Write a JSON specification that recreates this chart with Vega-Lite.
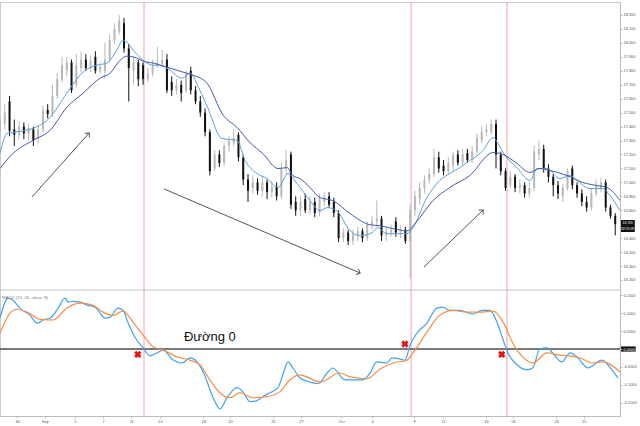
{
  "$schema": "https://vega.github.io/schema/vega-lite/v6.json",
  "background": "white",
  "width": 620,
  "height": 414,
  "autosize": {"type": "none"},
  "padding": {"left": 0, "top": 2, "right": 20, "bottom": 10},
  "config": {
    "view": {"stroke": "#cccccc"},
    "scale": {"continuousPadding": 0},
    "axis": {
      "grid": false,
      "labelFont": "Liberation Sans", "labelFontSize": 3.9, "labelColor": "#555555",
      "domainColor": "#bbbbbb", "tickColor": "#bbbbbb", "tickSize": 2, "labelPadding": 1
    }
  },
  "datasets": {
    "candles": [
      {"i":0,"o":17.36,"h":17.48,"l":17.33,"c":17.45},{"i":1,"o":17.42,"h":17.56,"l":17.38,"c":17.50},
      {"i":2,"o":17.58,"h":17.62,"l":17.33,"c":17.37},{"i":3,"o":17.38,"h":17.45,"l":17.26,"c":17.34},
      {"i":4,"o":17.34,"h":17.44,"l":17.31,"c":17.40},{"i":5,"o":17.40,"h":17.43,"l":17.31,"c":17.35},
      {"i":6,"o":17.35,"h":17.42,"l":17.30,"c":17.39},{"i":7,"o":17.38,"h":17.40,"l":17.26,"c":17.30},
      {"i":8,"o":17.31,"h":17.41,"l":17.28,"c":17.38},{"i":9,"o":17.38,"h":17.55,"l":17.36,"c":17.52},
      {"i":10,"o":17.52,"h":17.56,"l":17.46,"c":17.49},{"i":11,"o":17.49,"h":17.70,"l":17.47,"c":17.62},
      {"i":12,"o":17.62,"h":17.78,"l":17.60,"c":17.74},{"i":13,"o":17.74,"h":17.90,"l":17.72,"c":17.84},
      {"i":14,"o":17.80,"h":17.90,"l":17.76,"c":17.86},{"i":15,"o":17.86,"h":17.88,"l":17.64,"c":17.66},
      {"i":16,"o":17.70,"h":17.92,"l":17.68,"c":17.84},{"i":17,"o":17.82,"h":17.94,"l":17.79,"c":17.88},
      {"i":18,"o":17.88,"h":17.92,"l":17.80,"c":17.82},{"i":19,"o":17.82,"h":17.91,"l":17.79,"c":17.87},
      {"i":20,"o":17.90,"h":17.94,"l":17.78,"c":17.80},{"i":21,"o":17.80,"h":17.86,"l":17.78,"c":17.83},
      {"i":22,"o":17.80,"h":18.00,"l":17.74,"c":17.88},{"i":23,"o":17.88,"h":18.06,"l":17.86,"c":18.02},
      {"i":24,"o":18.02,"h":18.14,"l":17.99,"c":18.10},{"i":25,"o":18.08,"h":18.20,"l":18.06,"c":18.16},
      {"i":26,"o":18.14,"h":18.18,"l":17.93,"c":17.96},{"i":27,"o":17.96,"h":17.99,"l":17.58,"c":17.82},
      {"i":28,"o":17.80,"h":17.90,"l":17.70,"c":17.86},{"i":29,"o":17.86,"h":17.88,"l":17.69,"c":17.74},
      {"i":30,"o":17.84,"h":17.86,"l":17.70,"c":17.74},{"i":31,"o":17.74,"h":17.82,"l":17.72,"c":17.78},
      {"i":32,"o":17.78,"h":17.88,"l":17.76,"c":17.84},{"i":33,"o":17.84,"h":17.97,"l":17.82,"c":17.86},
      {"i":34,"o":17.85,"h":17.95,"l":17.82,"c":17.88},{"i":35,"o":17.88,"h":17.92,"l":17.64,"c":17.66},
      {"i":36,"o":17.72,"h":17.76,"l":17.62,"c":17.66},{"i":37,"o":17.66,"h":17.74,"l":17.63,"c":17.70},
      {"i":38,"o":17.70,"h":17.73,"l":17.58,"c":17.64},{"i":39,"o":17.66,"h":17.80,"l":17.64,"c":17.78},
      {"i":40,"o":17.80,"h":17.83,"l":17.63,"c":17.66},{"i":41,"o":17.66,"h":17.69,"l":17.56,"c":17.58},
      {"i":42,"o":17.58,"h":17.62,"l":17.47,"c":17.50},{"i":43,"o":17.50,"h":17.53,"l":17.33,"c":17.36},
      {"i":44,"o":17.36,"h":17.38,"l":17.05,"c":17.08},{"i":45,"o":17.10,"h":17.23,"l":17.08,"c":17.20},
      {"i":46,"o":17.20,"h":17.23,"l":17.11,"c":17.14},{"i":47,"o":17.14,"h":17.28,"l":17.12,"c":17.26},
      {"i":48,"o":17.26,"h":17.33,"l":17.22,"c":17.30},{"i":49,"o":17.28,"h":17.38,"l":17.26,"c":17.32},
      {"i":50,"o":17.34,"h":17.36,"l":17.15,"c":17.18},{"i":51,"o":17.18,"h":17.20,"l":16.98,"c":17.02},
      {"i":52,"o":17.02,"h":17.06,"l":16.86,"c":16.94},{"i":53,"o":16.96,"h":17.05,"l":16.92,"c":17.00},
      {"i":54,"o":17.00,"h":17.03,"l":16.91,"c":16.94},{"i":55,"o":16.94,"h":17.04,"l":16.90,"c":17.00},
      {"i":56,"o":17.00,"h":17.02,"l":16.88,"c":16.93},{"i":57,"o":16.93,"h":17.01,"l":16.89,"c":16.97},
      {"i":58,"o":16.97,"h":17.00,"l":16.87,"c":16.90},{"i":59,"o":16.90,"h":17.14,"l":16.88,"c":17.10},
      {"i":60,"o":17.10,"h":17.23,"l":17.06,"c":17.16},{"i":61,"o":17.20,"h":17.22,"l":16.81,"c":16.84},
      {"i":62,"o":16.86,"h":16.90,"l":16.76,"c":16.80},{"i":63,"o":16.80,"h":16.90,"l":16.76,"c":16.86},
      {"i":64,"o":16.88,"h":16.92,"l":16.78,"c":16.80},{"i":65,"o":16.80,"h":16.90,"l":16.77,"c":16.86},
      {"i":66,"o":16.86,"h":16.89,"l":16.75,"c":16.78},{"i":67,"o":16.78,"h":16.92,"l":16.76,"c":16.88},
      {"i":68,"o":16.86,"h":16.93,"l":16.83,"c":16.90},{"i":69,"o":16.90,"h":16.93,"l":16.82,"c":16.84},
      {"i":70,"o":16.86,"h":16.89,"l":16.75,"c":16.78},{"i":71,"o":16.78,"h":16.80,"l":16.57,"c":16.60},
      {"i":72,"o":16.60,"h":16.67,"l":16.57,"c":16.64},{"i":73,"o":16.64,"h":16.66,"l":16.55,"c":16.58},
      {"i":74,"o":16.58,"h":16.66,"l":16.55,"c":16.63},{"i":75,"o":16.62,"h":16.68,"l":16.58,"c":16.65},
      {"i":76,"o":16.65,"h":16.67,"l":16.57,"c":16.60},{"i":77,"o":16.60,"h":16.72,"l":16.58,"c":16.70},
      {"i":78,"o":16.70,"h":16.76,"l":16.66,"c":16.72},{"i":79,"o":16.72,"h":16.87,"l":16.68,"c":16.74},
      {"i":80,"o":16.74,"h":16.76,"l":16.58,"c":16.62},{"i":81,"o":16.62,"h":16.68,"l":16.58,"c":16.65},
      {"i":82,"o":16.64,"h":16.70,"l":16.61,"c":16.66},{"i":83,"o":16.72,"h":16.75,"l":16.61,"c":16.64},
      {"i":84,"o":16.64,"h":16.69,"l":16.60,"c":16.66},{"i":85,"o":16.66,"h":16.68,"l":16.56,"c":16.58},
      {"i":86,"o":16.58,"h":16.85,"l":16.31,"c":16.80},{"i":87,"o":16.80,"h":16.94,"l":16.76,"c":16.90},
      {"i":88,"o":16.88,"h":17.00,"l":16.84,"c":16.96},{"i":89,"o":16.96,"h":17.05,"l":16.92,"c":17.02},
      {"i":90,"o":17.02,"h":17.10,"l":16.99,"c":17.06},{"i":91,"o":17.06,"h":17.24,"l":17.04,"c":17.18},
      {"i":92,"o":17.18,"h":17.22,"l":17.07,"c":17.10},{"i":93,"o":17.12,"h":17.16,"l":17.05,"c":17.08},
      {"i":94,"o":17.08,"h":17.18,"l":17.06,"c":17.14},{"i":95,"o":17.12,"h":17.22,"l":17.08,"c":17.20},
      {"i":96,"o":17.20,"h":17.23,"l":17.12,"c":17.14},{"i":97,"o":17.14,"h":17.24,"l":17.12,"c":17.20},
      {"i":98,"o":17.21,"h":17.24,"l":17.14,"c":17.16},{"i":99,"o":17.16,"h":17.26,"l":17.14,"c":17.22},
      {"i":100,"o":17.22,"h":17.35,"l":17.20,"c":17.32},{"i":101,"o":17.30,"h":17.40,"l":17.28,"c":17.36},
      {"i":102,"o":17.36,"h":17.42,"l":17.33,"c":17.38},{"i":103,"o":17.36,"h":17.45,"l":17.34,"c":17.42},
      {"i":104,"o":17.42,"h":17.45,"l":17.10,"c":17.20},{"i":105,"o":17.20,"h":17.22,"l":17.05,"c":17.08},
      {"i":106,"o":17.08,"h":17.10,"l":16.94,"c":16.96},{"i":107,"o":16.98,"h":17.08,"l":16.96,"c":17.04},
      {"i":108,"o":17.04,"h":17.06,"l":16.93,"c":16.96},{"i":109,"o":16.96,"h":17.02,"l":16.92,"c":16.98},
      {"i":110,"o":16.98,"h":17.00,"l":16.89,"c":16.92},{"i":111,"o":16.92,"h":17.00,"l":16.89,"c":16.96},
      {"i":112,"o":16.96,"h":17.26,"l":16.94,"c":17.22},{"i":113,"o":17.20,"h":17.30,"l":17.16,"c":17.24},
      {"i":114,"o":17.24,"h":17.27,"l":17.07,"c":17.10},{"i":115,"o":17.10,"h":17.13,"l":17.00,"c":17.04},
      {"i":116,"o":17.04,"h":17.06,"l":16.90,"c":16.98},{"i":117,"o":16.98,"h":17.01,"l":16.88,"c":16.92},
      {"i":118,"o":16.90,"h":16.99,"l":16.86,"c":16.96},{"i":119,"o":16.96,"h":17.10,"l":16.94,"c":17.08},
      {"i":120,"o":17.10,"h":17.12,"l":16.95,"c":16.98},{"i":121,"o":16.98,"h":17.00,"l":16.89,"c":16.92},
      {"i":122,"o":16.92,"h":16.95,"l":16.83,"c":16.86},{"i":123,"o":16.86,"h":16.90,"l":16.79,"c":16.82},
      {"i":124,"o":16.82,"h":16.96,"l":16.80,"c":16.92},{"i":125,"o":16.92,"h":17.02,"l":16.90,"c":16.98},
      {"i":126,"o":16.96,"h":17.03,"l":16.93,"c":17.00},{"i":127,"o":17.00,"h":17.02,"l":16.79,"c":16.82},
      {"i":128,"o":16.82,"h":16.84,"l":16.74,"c":16.76},{"i":129,"o":16.76,"h":16.78,"l":16.62,"c":16.70}
    ],
    "ma": [
      {"i":0,"k":"fast","p":17.207},{"i":1.5,"k":"fast","p":17.351},{"i":2.7,"k":"fast","p":17.358},{"i":6.9,"k":"fast","p":17.387},
      {"i":10.5,"k":"fast","p":17.466},{"i":14,"k":"fast","p":17.639},{"i":17.4,"k":"fast","p":17.79},{"i":20.3,"k":"fast","p":17.84},
      {"i":22.4,"k":"fast","p":17.855},{"i":24.5,"k":"fast","p":17.948},{"i":25.8,"k":"fast","p":18.02},{"i":26.6,"k":"fast","p":18.006},
      {"i":27.9,"k":"fast","p":17.948},{"i":30,"k":"fast","p":17.876},{"i":32.1,"k":"fast","p":17.84},{"i":33.5,"k":"fast","p":17.84},
      {"i":35,"k":"fast","p":17.819},{"i":38.2,"k":"fast","p":17.747},{"i":39.8,"k":"fast","p":17.783},{"i":41.9,"k":"fast","p":17.66},
      {"i":43.6,"k":"fast","p":17.531},{"i":46.5,"k":"fast","p":17.315},{"i":49.7,"k":"fast","p":17.301},{"i":51.4,"k":"fast","p":17.157},
      {"i":53.9,"k":"fast","p":17.063},{"i":56,"k":"fast","p":17.027},{"i":58.3,"k":"fast","p":16.963},{"i":60.4,"k":"fast","p":17.063},
      {"i":62.3,"k":"fast","p":16.991},{"i":65,"k":"fast","p":16.869},{"i":67.1,"k":"fast","p":16.797},{"i":68.6,"k":"fast","p":16.819},
      {"i":70.6,"k":"fast","p":16.797},{"i":73.4,"k":"fast","p":16.653},{"i":75.5,"k":"fast","p":16.617},{"i":78,"k":"fast","p":16.639},
      {"i":79.2,"k":"fast","p":16.675},{"i":81.1,"k":"fast","p":16.632},{"i":83.2,"k":"fast","p":16.632},{"i":85.3,"k":"fast","p":16.632},
      {"i":86.6,"k":"fast","p":16.675},{"i":89.5,"k":"fast","p":16.891},{"i":92.2,"k":"fast","p":17.013},{"i":94.3,"k":"fast","p":17.063},
      {"i":96.4,"k":"fast","p":17.106},{"i":97.9,"k":"fast","p":17.142},{"i":101.3,"k":"fast","p":17.229},{"i":103.4,"k":"fast","p":17.322},
      {"i":104.4,"k":"fast","p":17.279},{"i":105.9,"k":"fast","p":17.193},{"i":108.4,"k":"fast","p":17.106},{"i":111.1,"k":"fast","p":17.013},
      {"i":112.6,"k":"fast","p":17.099},{"i":114.7,"k":"fast","p":17.099},{"i":117.4,"k":"fast","p":17.027},{"i":119.5,"k":"fast","p":17.049},
      {"i":121,"k":"fast","p":17.013},{"i":123.7,"k":"fast","p":16.955},{"i":126.4,"k":"fast","p":16.955},{"i":127.9,"k":"fast","p":16.905},
      {"i":130,"k":"fast","p":16.797},
      {"i":0,"k":"slow","p":17.099},{"i":2.7,"k":"slow","p":17.207},{"i":6.9,"k":"slow","p":17.301},{"i":10.5,"k":"slow","p":17.373},
      {"i":14,"k":"slow","p":17.538},{"i":17.4,"k":"slow","p":17.639},{"i":21,"k":"slow","p":17.747},{"i":23.1,"k":"slow","p":17.783},
      {"i":25.2,"k":"slow","p":17.876},{"i":26.6,"k":"slow","p":17.905},{"i":28.7,"k":"slow","p":17.891},{"i":30,"k":"slow","p":17.869},
      {"i":32.1,"k":"slow","p":17.855},{"i":35,"k":"slow","p":17.826},{"i":38.4,"k":"slow","p":17.79},{"i":40.5,"k":"slow","p":17.768},
      {"i":43.4,"k":"slow","p":17.711},{"i":46.8,"k":"slow","p":17.481},{"i":49.7,"k":"slow","p":17.394},{"i":52.4,"k":"slow","p":17.286},
      {"i":55.1,"k":"slow","p":17.207},{"i":58.3,"k":"slow","p":17.099},{"i":60.2,"k":"slow","p":17.106},{"i":61.4,"k":"slow","p":17.049},
      {"i":62.9,"k":"slow","p":17.027},{"i":65,"k":"slow","p":16.963},{"i":67.1,"k":"slow","p":16.891},{"i":69.8,"k":"slow","p":16.869},
      {"i":73.4,"k":"slow","p":16.776},{"i":77.6,"k":"slow","p":16.696},{"i":79.7,"k":"slow","p":16.689},{"i":82.4,"k":"slow","p":16.668},
      {"i":85.5,"k":"slow","p":16.653},{"i":87,"k":"slow","p":16.704},{"i":90.8,"k":"slow","p":16.869},{"i":94.3,"k":"slow","p":16.963},
      {"i":98.5,"k":"slow","p":17.049},{"i":103.4,"k":"slow","p":17.214},{"i":105.9,"k":"slow","p":17.193},{"i":108.4,"k":"slow","p":17.135},
      {"i":111.1,"k":"slow","p":17.071},{"i":113.2,"k":"slow","p":17.099},{"i":115.3,"k":"slow","p":17.085},{"i":118.9,"k":"slow","p":17.049},
      {"i":122.2,"k":"slow","p":16.999},{"i":125.2,"k":"slow","p":16.977},{"i":127.3,"k":"slow","p":16.963},{"i":130,"k":"slow","p":16.869}
    ],
    "macd": [
      {"i":0,"k":"macd","v":0.086},{"i":1.7,"k":"macd","v":0.142},{"i":2.7,"k":"macd","v":0.136},{"i":4.2,"k":"macd","v":0.114},
      {"i":6.3,"k":"macd","v":0.094},{"i":7.8,"k":"macd","v":0.072},{"i":9,"k":"macd","v":0.081},{"i":10.5,"k":"macd","v":0.086},
      {"i":12.2,"k":"macd","v":0.114},{"i":13.6,"k":"macd","v":0.142},{"i":14.3,"k":"macd","v":0.131},{"i":15.3,"k":"macd","v":0.133},
      {"i":16.8,"k":"macd","v":0.131},{"i":18.4,"k":"macd","v":0.122},{"i":19.9,"k":"macd","v":0.117},{"i":21,"k":"macd","v":0.1},
      {"i":22,"k":"macd","v":0.086},{"i":23.1,"k":"macd","v":0.089},{"i":24.7,"k":"macd","v":0.114},{"i":25.8,"k":"macd","v":0.108},
      {"i":26.8,"k":"macd","v":0.075},{"i":28.3,"k":"macd","v":0.033},{"i":30,"k":"macd","v":0.003},{"i":31.4,"k":"macd","v":-0.019},
      {"i":32.9,"k":"macd","v":-0.011},{"i":34.2,"k":"macd","v":-0.003},{"i":36.3,"k":"macd","v":-0.031},{"i":38.2,"k":"macd","v":-0.039},
      {"i":39.8,"k":"macd","v":-0.025},{"i":41.3,"k":"macd","v":-0.036},{"i":42.6,"k":"macd","v":-0.064},{"i":44.7,"k":"macd","v":-0.136},
      {"i":46.1,"k":"macd","v":-0.167},{"i":47.6,"k":"macd","v":-0.136},{"i":49.7,"k":"macd","v":-0.108},{"i":50.9,"k":"macd","v":-0.119},
      {"i":52.4,"k":"macd","v":-0.147},{"i":53.9,"k":"macd","v":-0.144},{"i":55.1,"k":"macd","v":-0.133},{"i":56.6,"k":"macd","v":-0.122},
      {"i":58.3,"k":"macd","v":-0.108},{"i":59.3,"k":"macd","v":-0.072},{"i":60.4,"k":"macd","v":-0.036},{"i":61.4,"k":"macd","v":-0.053},
      {"i":62.9,"k":"macd","v":-0.081},{"i":65,"k":"macd","v":-0.092},{"i":66.7,"k":"macd","v":-0.097},{"i":68.6,"k":"macd","v":-0.067},
      {"i":69.8,"k":"macd","v":-0.053},{"i":72.3,"k":"macd","v":-0.086},{"i":74,"k":"macd","v":-0.086},{"i":76.1,"k":"macd","v":-0.086},
      {"i":77.6,"k":"macd","v":-0.067},{"i":79,"k":"macd","v":-0.036},{"i":81.1,"k":"macd","v":-0.039},{"i":82.2,"k":"macd","v":-0.025},
      {"i":83.9,"k":"macd","v":-0.028},{"i":84.9,"k":"macd","v":-0.031},{"i":86,"k":"macd","v":0.011},{"i":87.4,"k":"macd","v":0.044},
      {"i":89.5,"k":"macd","v":0.072},{"i":91.6,"k":"macd","v":0.114},{"i":92.9,"k":"macd","v":0.117},{"i":94.3,"k":"macd","v":0.108},
      {"i":96.4,"k":"macd","v":0.108},{"i":99.2,"k":"macd","v":0.097},{"i":101,"k":"macd","v":0.108},{"i":102.7,"k":"macd","v":0.108},
      {"i":104.2,"k":"macd","v":0.075},{"i":105.5,"k":"macd","v":0.025},{"i":106.5,"k":"macd","v":-0.011},{"i":108.4,"k":"macd","v":-0.044},
      {"i":110.5,"k":"macd","v":-0.058},{"i":111.7,"k":"macd","v":-0.053},{"i":113.2,"k":"macd","v":0},{"i":114.7,"k":"macd","v":0.003},
      {"i":115.9,"k":"macd","v":-0.011},{"i":117.8,"k":"macd","v":-0.036},{"i":119.5,"k":"macd","v":-0.011},{"i":121,"k":"macd","v":-0.022},
      {"i":123.3,"k":"macd","v":-0.053},{"i":126.2,"k":"macd","v":-0.031},{"i":128.3,"k":"macd","v":-0.058},{"i":129.6,"k":"macd","v":-0.081},
      {"i":0,"k":"signal","v":0.044},{"i":2.1,"k":"signal","v":0.1},{"i":3.6,"k":"signal","v":0.111},{"i":5.7,"k":"signal","v":0.103},
      {"i":8.4,"k":"signal","v":0.083},{"i":11.1,"k":"signal","v":0.081},{"i":14,"k":"signal","v":0.114},{"i":16.8,"k":"signal","v":0.128},
      {"i":19.5,"k":"signal","v":0.122},{"i":21.6,"k":"signal","v":0.103},{"i":23.7,"k":"signal","v":0.094},{"i":25.8,"k":"signal","v":0.106},
      {"i":27.9,"k":"signal","v":0.075},{"i":30,"k":"signal","v":0.039},{"i":32.1,"k":"signal","v":0.006},{"i":34.2,"k":"signal","v":-0.003},
      {"i":37.1,"k":"signal","v":-0.022},{"i":39.8,"k":"signal","v":-0.031},{"i":41.9,"k":"signal","v":-0.044},{"i":44,"k":"signal","v":-0.086},
      {"i":46.1,"k":"signal","v":-0.122},{"i":48.2,"k":"signal","v":-0.136},{"i":50.3,"k":"signal","v":-0.122},{"i":53,"k":"signal","v":-0.136},
      {"i":56,"k":"signal","v":-0.133},{"i":58.7,"k":"signal","v":-0.119},{"i":60.8,"k":"signal","v":-0.086},{"i":62.9,"k":"signal","v":-0.072},
      {"i":67.1,"k":"signal","v":-0.092},{"i":71.3,"k":"signal","v":-0.067},{"i":73.4,"k":"signal","v":-0.078},{"i":76.9,"k":"signal","v":-0.083},
      {"i":79.7,"k":"signal","v":-0.056},{"i":82.4,"k":"signal","v":-0.039},{"i":85.3,"k":"signal","v":-0.031},{"i":86.6,"k":"signal","v":-0.011},
      {"i":89.5,"k":"signal","v":0.047},{"i":92.2,"k":"signal","v":0.094},{"i":95,"k":"signal","v":0.108},{"i":97.9,"k":"signal","v":0.103},
      {"i":100.6,"k":"signal","v":0.103},{"i":103.4,"k":"signal","v":0.106},{"i":105.5,"k":"signal","v":0.075},{"i":107.5,"k":"signal","v":0.017},
      {"i":109.6,"k":"signal","v":-0.022},{"i":111.7,"k":"signal","v":-0.039},{"i":114.7,"k":"signal","v":-0.011},{"i":117.4,"k":"signal","v":-0.017},
      {"i":119.5,"k":"signal","v":-0.019},{"i":121.6,"k":"signal","v":-0.025},{"i":124.3,"k":"signal","v":-0.039},{"i":126.4,"k":"signal","v":-0.036},
      {"i":130,"k":"signal","v":-0.064}
    ],
    "redlines": [{"i":30.2},{"i":86.2},{"i":106.3}],
    "separator": [{"i":0,"p":16.228},{"i":130,"p":16.228}],
    "arrows": [
      {"i":6.7,"p":16.895,"i2":18.7,"p2":17.354},
      {"i":34.4,"p":16.953,"i2":75.5,"p2":16.35},
      {"i":88.9,"p":16.393,"i2":101.3,"p2":16.802}
    ],
    "heads": [
      {"i":18.7,"p":17.354,"a":41.7},
      {"i":75.5,"p":16.35,"a":113.2},
      {"i":101.3,"p":16.802,"a":46}
    ],
    "tag": [{"i":130.15,"i2":133.1,"p":16.73,"p2":16.644}],
    "tagtext": [{"i":131.6,"p":16.712,"t":"16.703"},{"i":131.6,"p":16.666,"t":"02:55:59"}],
    "zero": [{"i":0,"v":0},{"i":130,"v":0}],
    "zerotag": [{"i":130.2,"i2":133.3,"v":0.0072,"v2":-0.0072}],
    "crosses": [{"i":28.9,"v":-0.015},{"i":84.9,"v":0.014},{"i":105.2,"v":-0.015}],
    "notes": [{"i":44,"v":0.033,"t":"Đường 0"}],
    "panelname": [{"i":0.4,"v":0.142,"t":"MACD (12, 26, close, 9)"}]
  },
  "encoding": {
    "x": {"field": "i", "type": "quantitative", "scale": {"domain": [0, 130], "nice": false, "zero": false, "padding": 0},
      "axis": {
        "title": null,
        "values": [3.6, 9.4, 15.7, 21.6, 27.5, 33.5, 42.6, 48.2, 57.2, 63.1, 71.5, 78, 86.8, 92.9, 101.9, 107.5, 116.6, 122.4],
        "labelExpr": "['30','Sep','5','7','11','13','18','20','25','27','Oct','4','9','11','16','18','23','25'][indexof([3.6, 9.4, 15.7, 21.6, 27.5, 33.5, 42.6, 48.2, 57.2, 63.1, 71.5, 78, 86.8, 92.9, 101.9, 107.5, 116.6, 122.4], datum.value)]"
      }}
  },
  "resolve": {"scale": {"y": "independent", "color": "independent"}},
  "layer": [
    {
      "data": {"name": "redlines"},
      "mark": {"type": "rule", "color": "#f3a0a0", "strokeWidth": 1},
      "encoding": {}
    },
    {
      "layer": [
        {
          "data": {"name": "separator"},
          "mark": {"type": "line", "color": "#c4c4c4", "strokeWidth": 1},
          "encoding": {
            "y": {"field": "p", "type": "quantitative", "scale": {"domain": [15.325, 18.293], "nice": false, "zero": false, "padding": 0},
              "axis": {"orient": "right", "format": ".3f", "zindex": 1, "title": null,
                "values": [16.3, 16.4, 16.5, 16.6, 16.8, 16.9, 17, 17.1, 17.2, 17.3, 17.4, 17.5, 17.6, 17.7, 17.8, 17.9, 18, 18.1, 18.2]}}
          }
        },
        {
          "data": {"name": "candles"},
          "mark": {"type": "rule", "strokeWidth": 1},
          "encoding": {
            "y": {"field": "l", "type": "quantitative", "scale": {"domain": [15.325, 18.293], "nice": false, "zero": false, "padding": 0},
              "axis": {"orient": "right", "format": ".3f", "zindex": 1, "title": null,
                "values": [16.3, 16.4, 16.5, 16.6, 16.8, 16.9, 17, 17.1, 17.2, 17.3, 17.4, 17.5, 17.6, 17.7, 17.8, 17.9, 18, 18.1, 18.2]}},
            "y2": {"field": "h"},
            "color": {"condition": {"test": "datum.c >= datum.o", "value": "#b8b8b8"}, "value": "#111111"}
          }
        },
        {
          "data": {"name": "candles"},
          "mark": {"type": "bar", "size": 2},
          "encoding": {
            "y": {"field": "o", "type": "quantitative", "scale": {"domain": [15.325, 18.293], "nice": false, "zero": false, "padding": 0},
              "axis": {"orient": "right", "format": ".3f", "zindex": 1, "title": null,
                "values": [16.3, 16.4, 16.5, 16.6, 16.8, 16.9, 17, 17.1, 17.2, 17.3, 17.4, 17.5, 17.6, 17.7, 17.8, 17.9, 18, 18.1, 18.2]}},
            "y2": {"field": "c"},
            "color": {"condition": {"test": "datum.c >= datum.o", "value": "#b8b8b8"}, "value": "#111111"}
          }
        },
        {
          "data": {"name": "ma"},
          "mark": {"type": "line", "strokeWidth": 1, "interpolate": "monotone"},
          "encoding": {
            "y": {"field": "p", "type": "quantitative", "scale": {"domain": [15.325, 18.293], "nice": false, "zero": false, "padding": 0},
              "axis": {"orient": "right", "format": ".3f", "zindex": 1, "title": null,
                "values": [16.3, 16.4, 16.5, 16.6, 16.8, 16.9, 17, 17.1, 17.2, 17.3, 17.4, 17.5, 17.6, 17.7, 17.8, 17.9, 18, 18.1, 18.2]}},
            "color": {"field": "k", "type": "nominal", "scale": {"domain": ["fast", "slow"], "range": ["#5b9fdb", "#4658ae"]}, "legend": null}
          }
        },
        {
          "data": {"name": "arrows"},
          "mark": {"type": "rule", "color": "#555555", "strokeWidth": 1},
          "encoding": {
            "x2": {"field": "i2"},
            "y": {"field": "p", "type": "quantitative", "scale": {"domain": [15.325, 18.293], "nice": false, "zero": false, "padding": 0},
              "axis": {"orient": "right", "format": ".3f", "zindex": 1, "title": null,
                "values": [16.3, 16.4, 16.5, 16.6, 16.8, 16.9, 17, 17.1, 17.2, 17.3, 17.4, 17.5, 17.6, 17.7, 17.8, 17.9, 18, 18.1, 18.2]}},
            "y2": {"field": "p2"}
          }
        },
        {
          "data": {"name": "heads"},
          "mark": {"type": "point", "shape": "M-1,1L0,0L1,1", "filled": false, "size": 40, "strokeWidth": 1, "color": "#555555", "opacity": 1},
          "encoding": {
            "y": {"field": "p", "type": "quantitative", "scale": {"domain": [15.325, 18.293], "nice": false, "zero": false, "padding": 0},
              "axis": {"orient": "right", "format": ".3f", "zindex": 1, "title": null,
                "values": [16.3, 16.4, 16.5, 16.6, 16.8, 16.9, 17, 17.1, 17.2, 17.3, 17.4, 17.5, 17.6, 17.7, 17.8, 17.9, 18, 18.1, 18.2]}},
            "angle": {"field": "a", "type": "quantitative", "scale": null}
          }
        },
        {
          "data": {"name": "tag"},
          "mark": {"type": "rect", "color": "#111111"},
          "encoding": {
            "x2": {"field": "i2"},
            "y": {"field": "p", "type": "quantitative", "scale": {"domain": [15.325, 18.293], "nice": false, "zero": false, "padding": 0},
              "axis": {"orient": "right", "format": ".3f", "zindex": 1, "title": null,
                "values": [16.3, 16.4, 16.5, 16.6, 16.8, 16.9, 17, 17.1, 17.2, 17.3, 17.4, 17.5, 17.6, 17.7, 17.8, 17.9, 18, 18.1, 18.2]}},
            "y2": {"field": "p2"}
          }
        },
        {
          "data": {"name": "tagtext"},
          "mark": {"type": "text", "color": "white", "fontSize": 3.3, "font": "Liberation Sans", "align": "center", "baseline": "middle"},
          "encoding": {
            "y": {"field": "p", "type": "quantitative", "scale": {"domain": [15.325, 18.293], "nice": false, "zero": false, "padding": 0},
              "axis": {"orient": "right", "format": ".3f", "zindex": 1, "title": null,
                "values": [16.3, 16.4, 16.5, 16.6, 16.8, 16.9, 17, 17.1, 17.2, 17.3, 17.4, 17.5, 17.6, 17.7, 17.8, 17.9, 18, 18.1, 18.2]}},
            "text": {"field": "t"}
          }
        }
      ]
    },
    {
      "layer": [
        {
          "data": {"name": "zerotag"},
          "mark": {"type": "rect", "color": "#111111"},
          "encoding": {
            "x2": {"field": "i2"},
            "y": {"field": "v", "type": "quantitative", "scale": {"domain": [-0.187, 0.9687], "nice": false, "zero": false, "padding": 0},
              "axis": {"orient": "right", "format": ".4f", "zindex": 1, "title": null, "values": [-0.15, -0.1, -0.05, 0, 0.05, 0.1, 0.15],
                "labelExpr": "replace(datum.label, '−', '-')",
                "labelColor": {"condition": {"test": "datum.value === 0", "value": "white"}, "value": "#555555"}}},
            "y2": {"field": "v2"}
          }
        },
        {
          "data": {"name": "zero"},
          "mark": {"type": "line", "color": "#4d4d4d", "strokeWidth": 1.6},
          "encoding": {
            "y": {"field": "v", "type": "quantitative", "scale": {"domain": [-0.187, 0.9687], "nice": false, "zero": false, "padding": 0},
              "axis": {"orient": "right", "format": ".4f", "zindex": 1, "title": null, "values": [-0.15, -0.1, -0.05, 0, 0.05, 0.1, 0.15],
                "labelExpr": "replace(datum.label, '−', '-')",
                "labelColor": {"condition": {"test": "datum.value === 0", "value": "white"}, "value": "#555555"}}}
          }
        },
        {
          "data": {"name": "macd"},
          "mark": {"type": "line", "strokeWidth": 1.2, "interpolate": "monotone"},
          "encoding": {
            "y": {"field": "v", "type": "quantitative", "scale": {"domain": [-0.187, 0.9687], "nice": false, "zero": false, "padding": 0},
              "axis": {"orient": "right", "format": ".4f", "zindex": 1, "title": null, "values": [-0.15, -0.1, -0.05, 0, 0.05, 0.1, 0.15],
                "labelExpr": "replace(datum.label, '−', '-')",
                "labelColor": {"condition": {"test": "datum.value === 0", "value": "white"}, "value": "#555555"}}},
            "color": {"field": "k", "type": "nominal", "scale": {"domain": ["macd", "signal"], "range": ["#3fa2f7", "#fa8c45"]}, "legend": null}
          }
        },
        {
          "data": {"name": "crosses"},
          "mark": {"type": "point", "shape": "cross", "angle": 45, "filled": true, "size": 55, "color": "#e8141b", "opacity": 1},
          "encoding": {
            "y": {"field": "v", "type": "quantitative", "scale": {"domain": [-0.187, 0.9687], "nice": false, "zero": false, "padding": 0},
              "axis": {"orient": "right", "format": ".4f", "zindex": 1, "title": null, "values": [-0.15, -0.1, -0.05, 0, 0.05, 0.1, 0.15],
                "labelExpr": "replace(datum.label, '−', '-')",
                "labelColor": {"condition": {"test": "datum.value === 0", "value": "white"}, "value": "#555555"}}}
          }
        },
        {
          "data": {"name": "notes"},
          "mark": {"type": "text", "align": "center", "baseline": "middle", "fontSize": 13, "font": "Liberation Sans", "color": "#111111"},
          "encoding": {
            "y": {"field": "v", "type": "quantitative", "scale": {"domain": [-0.187, 0.9687], "nice": false, "zero": false, "padding": 0},
              "axis": {"orient": "right", "format": ".4f", "zindex": 1, "title": null, "values": [-0.15, -0.1, -0.05, 0, 0.05, 0.1, 0.15],
                "labelExpr": "replace(datum.label, '−', '-')",
                "labelColor": {"condition": {"test": "datum.value === 0", "value": "white"}, "value": "#555555"}}},
            "text": {"field": "t"}
          }
        },
        {
          "data": {"name": "panelname"},
          "mark": {"type": "text", "align": "left", "baseline": "middle", "fontSize": 4.3, "font": "Liberation Sans", "color": "#777777"},
          "encoding": {
            "y": {"field": "v", "type": "quantitative", "scale": {"domain": [-0.187, 0.9687], "nice": false, "zero": false, "padding": 0},
              "axis": {"orient": "right", "format": ".4f", "zindex": 1, "title": null, "values": [-0.15, -0.1, -0.05, 0, 0.05, 0.1, 0.15],
                "labelExpr": "replace(datum.label, '−', '-')",
                "labelColor": {"condition": {"test": "datum.value === 0", "value": "white"}, "value": "#555555"}}},
            "text": {"field": "t"}
          }
        }
      ]
    }
  ]
}
